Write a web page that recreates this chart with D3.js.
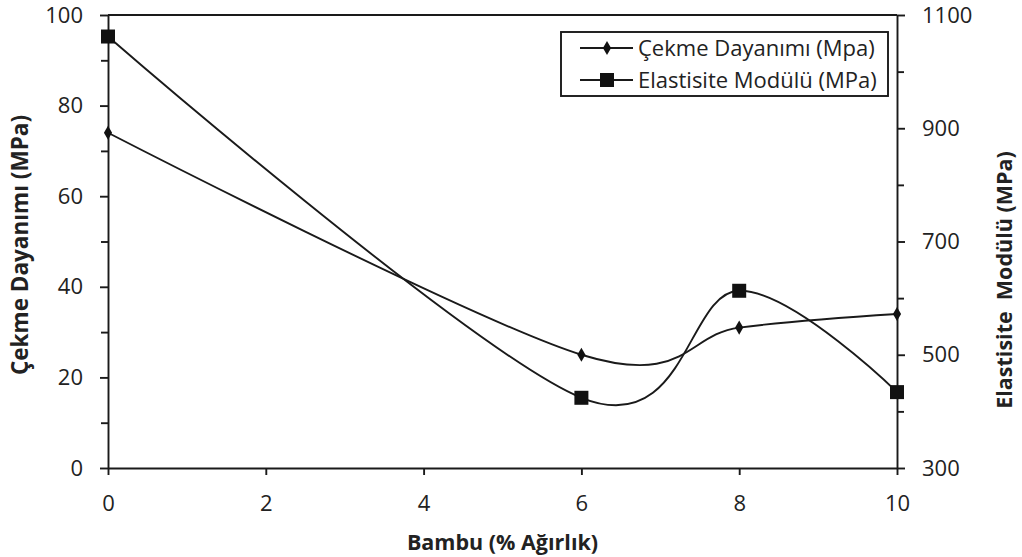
<!DOCTYPE html>
<html>
<head>
<meta charset="utf-8">
<script src="https://cdn.jsdelivr.net/npm/d3@7"></script>
<style>
  body { margin: 0; background: #fff; }
  svg { display: block; }
  .tick text { font-family: "Open Sans", sans-serif; font-size: 22px; fill: #222; }
  .title { font-family: "Open Sans", sans-serif; font-weight: bold; font-size: 21.5px; fill: #222; }
  .legend text { font-family: "Open Sans", sans-serif; font-size: 22px; fill: #222; }
</style>
</head>
<body>
<svg id="chart" width="1022" height="557"></svg>
<script>
// Bambu orani (% agirlik) ve olculen degerler
var bambu = [0, 6, 8, 10];
var cekme = [74, 25, 31, 34];
var elastisite = [1062, 424, 613, 434];

var xTicks = [0, 2, 4, 6, 8, 10];
var leftTicks = [0, 20, 40, 60, 80, 100];
var leftMinor = [10, 30, 50, 70, 90];
var rightTicks = [300, 500, 700, 900, 1100];
var rightMinor = [400, 600, 800, 1000];

var seriesNames = ["Çekme Dayanımı (Mpa)", "Elastisite Modülü (MPa)"];

var svg = d3.select("#chart");
var pLeft = 108, pRight = 897, pTop = 15, pBottom = 468;
var ink = "#1a1a1a", sw = 1.9;

var x = d3.scaleLinear().domain([0, 10]).range([pLeft, pRight]);
var yL = d3.scaleLinear().domain([0, 100]).range([pBottom, pTop]);
var yR = d3.scaleLinear().domain([300, 1100]).range([pBottom, pTop]);

function styleAxis(g){
  g.selectAll("path, line").attr("stroke", ink).attr("stroke-width", sw);
  return g;
}

// top border
svg.append("line")
  .attr("x1", pLeft).attr("x2", pRight).attr("y1", pTop).attr("y2", pTop)
  .attr("stroke", ink).attr("stroke-width", sw);

// minor ticks first
svg.append("g").attr("transform", "translate(" + pLeft + ",0)")
  .call(d3.axisLeft(yL).tickValues(leftMinor).tickFormat("").tickSize(7).tickSizeOuter(0))
  .call(styleAxis).select(".domain").remove();
svg.append("g").attr("transform", "translate(" + pRight + ",0)")
  .call(d3.axisRight(yR).tickValues(rightMinor).tickFormat("").tickSize(7).tickSizeOuter(0))
  .call(styleAxis).select(".domain").remove();

svg.append("g").attr("transform", "translate(" + pLeft + ",0)")
  .call(d3.axisLeft(yL).tickValues(leftTicks).tickFormat(d3.format("d")).tickSize(8).tickSizeOuter(0).tickPadding(17))
  .call(styleAxis);
svg.append("g").attr("transform", "translate(" + pRight + ",0)")
  .call(d3.axisRight(yR).tickValues(rightTicks).tickFormat(d3.format("d")).tickSize(8).tickSizeOuter(0).tickPadding(17))
  .call(styleAxis);
svg.append("g").attr("transform", "translate(0," + pBottom + ")")
  .call(d3.axisBottom(x).tickValues(xTicks).tickFormat(d3.format("d")).tickSize(7).tickSizeOuter(0).tickPadding(20))
  .call(styleAxis);

// axis titles
svg.append("text").attr("class", "title")
  .attr("transform", "translate(28,245) rotate(-90)")
  .attr("text-anchor", "middle").style("font-size", "22.5px").text("Çekme Dayanımı (MPa)");
svg.append("text").attr("class", "title")
  .attr("transform", "translate(1012,280) rotate(-90)")
  .attr("text-anchor", "middle").attr("xml:space", "preserve")
  .text("Elastisite  Modülü (MPa)");
svg.append("text").attr("class", "title")
  .attr("x", (pLeft + pRight) / 2).attr("y", 550)
  .attr("text-anchor", "middle").text("Bambu (% Ağırlık)");

// smoothed lines
var curve = d3.curveCardinal.tension(0);
var lineL = d3.line().x(function(d, i){ return x(bambu[i]); }).y(function(d){ return yL(d); }).curve(curve);
var lineR = d3.line().x(function(d, i){ return x(bambu[i]); }).y(function(d){ return yR(d); }).curve(curve);

svg.append("path").attr("d", lineR(elastisite))
  .attr("fill", "none").attr("stroke", ink).attr("stroke-width", sw);
svg.append("path").attr("d", lineL(cekme))
  .attr("fill", "none").attr("stroke", ink).attr("stroke-width", sw);

var diamond = d3.symbol().type(d3.symbolDiamond).size(58);
svg.append("g").selectAll("path").data(cekme).join("path")
  .attr("d", diamond)
  .attr("transform", function(d, i){ return "translate(" + x(bambu[i]) + "," + yL(d) + ")"; })
  .attr("fill", "#111");

svg.append("g").selectAll("rect").data(elastisite).join("rect")
  .attr("x", function(d, i){ return x(bambu[i]) - 7; })
  .attr("y", function(d){ return yR(d) - 7; })
  .attr("width", 14).attr("height", 14)
  .attr("fill", "#111");

// legend
var lg = svg.append("g").attr("class", "legend");
lg.append("rect").attr("x", 561).attr("y", 32).attr("width", 327).attr("height", 64)
  .attr("fill", "#fff").attr("stroke", ink).attr("stroke-width", sw);
seriesNames.forEach(function(name, i){
  var yy = 48 + i * 32;
  lg.append("line").attr("x1", 580).attr("x2", 633).attr("y1", yy).attr("y2", yy)
    .attr("stroke", ink).attr("stroke-width", sw);
  if (i === 0) {
    lg.append("path").attr("d", diamond).attr("transform", "translate(607," + yy + ")").attr("fill", "#111");
  } else {
    lg.append("rect").attr("x", 600).attr("y", yy - 7).attr("width", 14).attr("height", 14).attr("fill", "#111");
  }
  lg.append("text").attr("x", 638).attr("y", yy).attr("dy", "0.35em").text(name);
});
</script>
</body>
</html>
